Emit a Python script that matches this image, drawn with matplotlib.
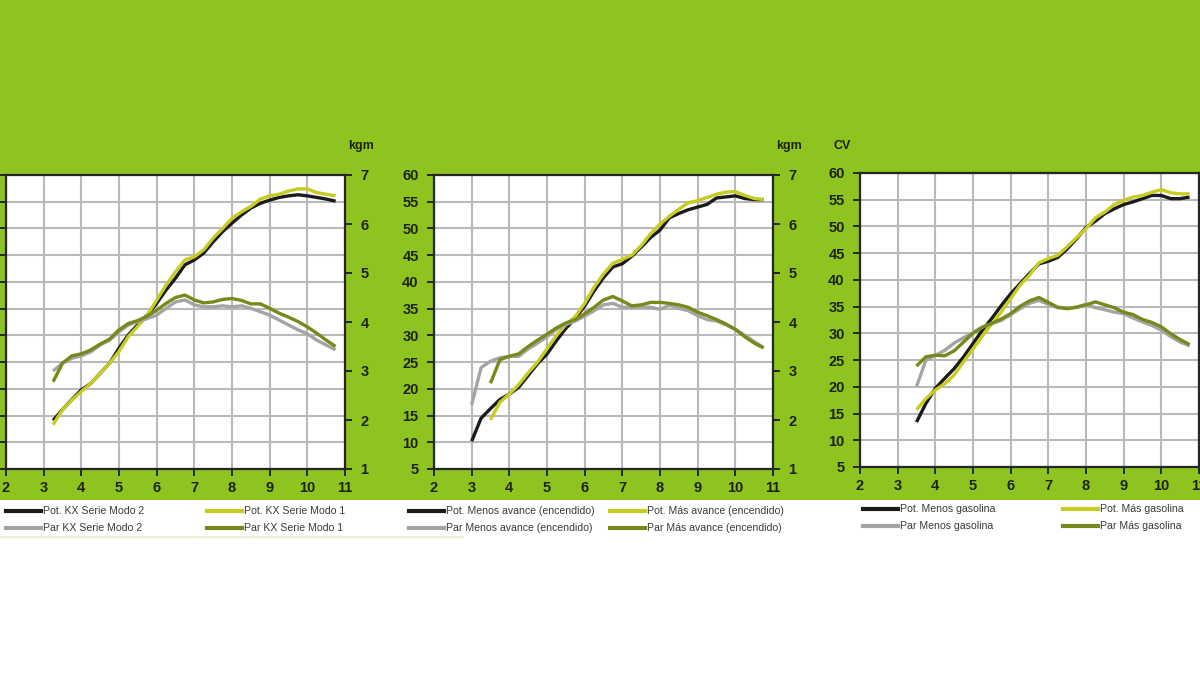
import numpy as np
import matplotlib.pyplot as plt
from matplotlib.lines import Line2D
from matplotlib.patches import Rectangle

plt.rcParams['font.family'] = ['Liberation Sans', 'DejaVu Sans']

# régimen (x1000 rpm)
rpm = [3.25, 3.5, 3.75, 4.0, 4.25, 4.5, 4.75, 5.0, 5.25, 5.5, 5.75, 6.0, 6.25, 6.5, 6.75,
       7.0, 7.25, 7.5, 7.75, 8.0, 8.25, 8.5, 8.75, 9.0, 9.25, 9.5, 9.75, 10.0, 10.25, 10.5, 10.75]
rpm_3 = [3.0] + rpm
rpm_35 = rpm[1:]

# --- Panel 1: KX Serie ---
pot_modo2 = [14.1, 16.1, 18.0, 19.8, 21.0, 22.9, 24.8, 27.6, 30.1, 32.0, 33.8, 36.0, 38.5, 40.7, 43.2,
             44.1, 45.4, 47.5, 49.4, 51.0, 52.5, 53.8, 54.7, 55.3, 55.8, 56.1, 56.3, 56.1, 55.8, 55.5, 55.1]
pot_modo1 = [13.3, 16.1, 17.9, 19.5, 21.0, 22.9, 24.8, 27.0, 29.8, 31.7, 33.8, 36.6, 39.4, 41.9, 44.1,
             44.7, 46.0, 48.2, 50.0, 51.9, 53.1, 54.1, 55.5, 56.1, 56.4, 57.0, 57.4, 57.4, 56.7, 56.4, 56.1]
par_modo2 = [3.00, 3.16, 3.26, 3.31, 3.39, 3.53, 3.63, 3.80, 3.94, 4.01, 4.07, 4.14, 4.28, 4.41, 4.45,
             4.35, 4.31, 4.31, 4.33, 4.31, 4.33, 4.28, 4.21, 4.14, 4.04, 3.94, 3.84, 3.76, 3.63, 3.53, 3.43]
par_modo1 = [2.78, 3.16, 3.31, 3.35, 3.43, 3.55, 3.65, 3.84, 3.97, 4.03, 4.12, 4.24, 4.38, 4.50, 4.55,
             4.45, 4.39, 4.41, 4.46, 4.48, 4.44, 4.37, 4.37, 4.28, 4.18, 4.10, 4.01, 3.90, 3.77, 3.63, 3.50]

# --- Panel 2: avance de encendido ---
pot_menos_av = [10.2, 14.5, 16.3, 18.0, 19.0, 20.3, 22.5, 24.7, 26.5, 29.0, 31.3, 33.2, 35.5, 38.3, 40.8, 42.8,
                43.4, 44.8, 46.5, 48.3, 49.7, 52.0, 52.8, 53.5, 54.0, 54.5, 55.7, 55.9, 56.1, 55.6, 55.4, 55.4]
pot_mas_av = [14.2, 17.5, 19.0, 20.8, 23.0, 25.0, 27.5, 30.0, 32.0, 33.5, 36.0, 39.0, 41.5, 43.5,
              44.2, 45.0, 46.8, 49.0, 50.8, 52.3, 53.6, 54.8, 55.2, 55.8, 56.4, 56.8, 56.9, 56.2, 55.6, 55.4]
par_menos_av = [2.31, 3.07, 3.20, 3.27, 3.30, 3.30, 3.45, 3.57, 3.70, 3.85, 3.95, 4.02, 4.12, 4.23, 4.35, 4.38,
                4.30, 4.30, 4.31, 4.30, 4.26, 4.34, 4.28, 4.23, 4.13, 4.05, 4.02, 3.94, 3.85, 3.73, 3.60, 3.48]
par_mas_av = [2.75, 3.23, 3.30, 3.35, 3.50, 3.63, 3.75, 3.88, 3.98, 4.05, 4.17, 4.30, 4.45, 4.52,
              4.43, 4.33, 4.35, 4.40, 4.40, 4.38, 4.35, 4.30, 4.20, 4.13, 4.05, 3.96, 3.85, 3.70, 3.57, 3.47]

# --- Panel 3: gasolina ---
pot_menos_gas = [13.4, 16.9, 19.7, 21.6, 23.4, 25.6, 28.1, 30.6, 32.8, 35.2, 37.4, 39.3, 41.2, 43.0,
                 43.5, 44.2, 45.8, 47.7, 49.8, 51.0, 52.4, 53.3, 54.1, 54.6, 55.2, 55.8, 55.8, 55.2, 55.2, 55.5]
pot_mas_gas = [15.7, 17.8, 19.4, 20.6, 22.2, 24.7, 27.1, 29.5, 31.8, 34.0, 36.5, 39.0, 40.9, 43.2,
               44.0, 44.6, 46.2, 47.9, 49.6, 51.6, 52.7, 54.1, 54.9, 55.5, 55.8, 56.4, 56.9, 56.3, 56.1, 56.1]
par_menos_gas = [2.64, 3.18, 3.28, 3.38, 3.53, 3.64, 3.74, 3.86, 3.93, 3.99, 4.11, 4.23, 4.34, 4.40,
                 4.32, 4.25, 4.24, 4.26, 4.32, 4.25, 4.21, 4.16, 4.13, 4.04, 3.96, 3.89, 3.79, 3.66, 3.55, 3.47]
par_mas_gas = [3.06, 3.25, 3.28, 3.27, 3.37, 3.55, 3.73, 3.85, 3.93, 4.02, 4.13, 4.28, 4.39, 4.46,
               4.36, 4.26, 4.23, 4.26, 4.31, 4.37, 4.31, 4.25, 4.16, 4.11, 4.01, 3.95, 3.86, 3.72, 3.60, 3.50]

c_negro = '#1b1b1b'
c_amarillo = '#c6cc22'
c_gris = '#a4a4a4'
c_oliva = '#77891a'
c_verde = '#8fc31f'
c_texto = '#1c2410'

W, H = 1200, 690
fig = plt.figure(figsize=(W / 100, H / 100), dpi=100, facecolor='white')
fig.add_artist(Rectangle((0, 1 - 500 / H), 1, 500 / H, transform=fig.transFigure,
                         facecolor=c_verde, edgecolor='none', zorder=0))
fig.add_artist(Line2D([0, 463 / W], [1 - 537 / H] * 2, color='#e3efc8', lw=1.2))


def panel(left_px, top_px, series, show_left, show_right, unit):
    ax = fig.add_axes([left_px / W, 1 - (top_px + 294) / H, 339 / W, 294 / H])
    ax.set_facecolor('white')
    ax.set_xlim(2, 11)
    ax.set_ylim(5, 60)
    ax.set_xticks(range(2, 12))
    ax.set_yticks(range(5, 61, 5))
    ax.grid(True, color='#b9b9b9', lw=1.5)
    ax.set_axisbelow(True)
    for s in ax.spines.values():
        s.set_color('#262626')
        s.set_linewidth(1.6)
    ax.tick_params(colors='#262626', width=1.4, length=5, labelcolor=c_texto,
                   labelsize=10.5, pad=4, labelleft=show_left)
    ax.tick_params(axis='y', pad=6)
    for lab in ax.get_xticklabels() + ax.get_yticklabels():
        lab.set_fontweight('bold')
    ax2 = ax.twinx()
    ax2.set_ylim(1, 7)
    ax2.set_yticks(range(1, 8))
    ax2.tick_params(colors='#262626', width=1.4, length=5, labelcolor=c_texto,
                    labelsize=10.5, pad=6, labelright=show_right)
    for lab in ax2.get_yticklabels():
        lab.set_fontweight('bold')
    for s in ax2.spines.values():
        s.set_visible(False)
    for (x, y, col, eje) in series:
        target = ax if eje == 'cv' else ax2
        target.plot(x, y, color=col, lw=2.4, solid_capstyle='butt', zorder=3)
    if unit == 'kgm':
        fig.text((left_px + 342) / W, 1 - 146 / H, 'kgm', fontsize=9, fontweight='bold',
                 color=c_texto, ha='left', va='center')
    else:
        fig.text((left_px - 27) / W, 1 - 146 / H, 'CV', fontsize=9, fontweight='bold',
                 color=c_texto, ha='left', va='center')
    return ax


panel(6, 175, [(rpm, par_modo2, c_gris, 'kgm'), (rpm, par_modo1, c_oliva, 'kgm'),
               (rpm, pot_modo2, c_negro, 'cv'), (rpm, pot_modo1, c_amarillo, 'cv')],
      False, True, 'kgm')
panel(434, 175, [(rpm_3, par_menos_av, c_gris, 'kgm'), (rpm_35, par_mas_av, c_oliva, 'kgm'),
                 (rpm_3, pot_menos_av, c_negro, 'cv'), (rpm_35, pot_mas_av, c_amarillo, 'cv')],
      True, True, 'kgm')
panel(860, 173, [(rpm_35, par_menos_gas, c_gris, 'kgm'), (rpm_35, par_mas_gas, c_oliva, 'kgm'),
                 (rpm_35, pot_menos_gas, c_negro, 'cv'), (rpm_35, pot_mas_gas, c_amarillo, 'cv')],
      True, False, 'cv')

# leyendas
leyendas = [
    (6, 511, 528, 207, ['Pot. KX Serie Modo 2', 'Par KX Serie Modo 2', 'Pot. KX Serie Modo 1', 'Par KX Serie Modo 1']),
    (409, 511, 528, 610, ['Pot. Menos avance (encendido)', 'Par Menos avance (encendido)',
                          'Pot. Más avance (encendido)', 'Par Más avance (encendido)']),
    (863, 509, 526, 1063, ['Pot. Menos gasolina', 'Par Menos gasolina', 'Pot. Más gasolina', 'Par Más gasolina']),
]
colores = [c_negro, c_gris, c_amarillo, c_oliva]
for x1, y1, y2, x2, textos in leyendas:
    pos = [(x1, y1), (x1, y2), (x2, y1), (x2, y2)]
    for (px, py), txt, col in zip(pos, textos, colores):
        fig.add_artist(Line2D([px / W, (px + 35) / W], [1 - py / H] * 2, color=col, lw=3))
        fig.text((px + 37) / W, 1 - py / H, txt, fontsize=7.6, color='#3a3a3a',
                 ha='left', va='center')

fig.savefig('out.png', dpi=100, facecolor='white')
